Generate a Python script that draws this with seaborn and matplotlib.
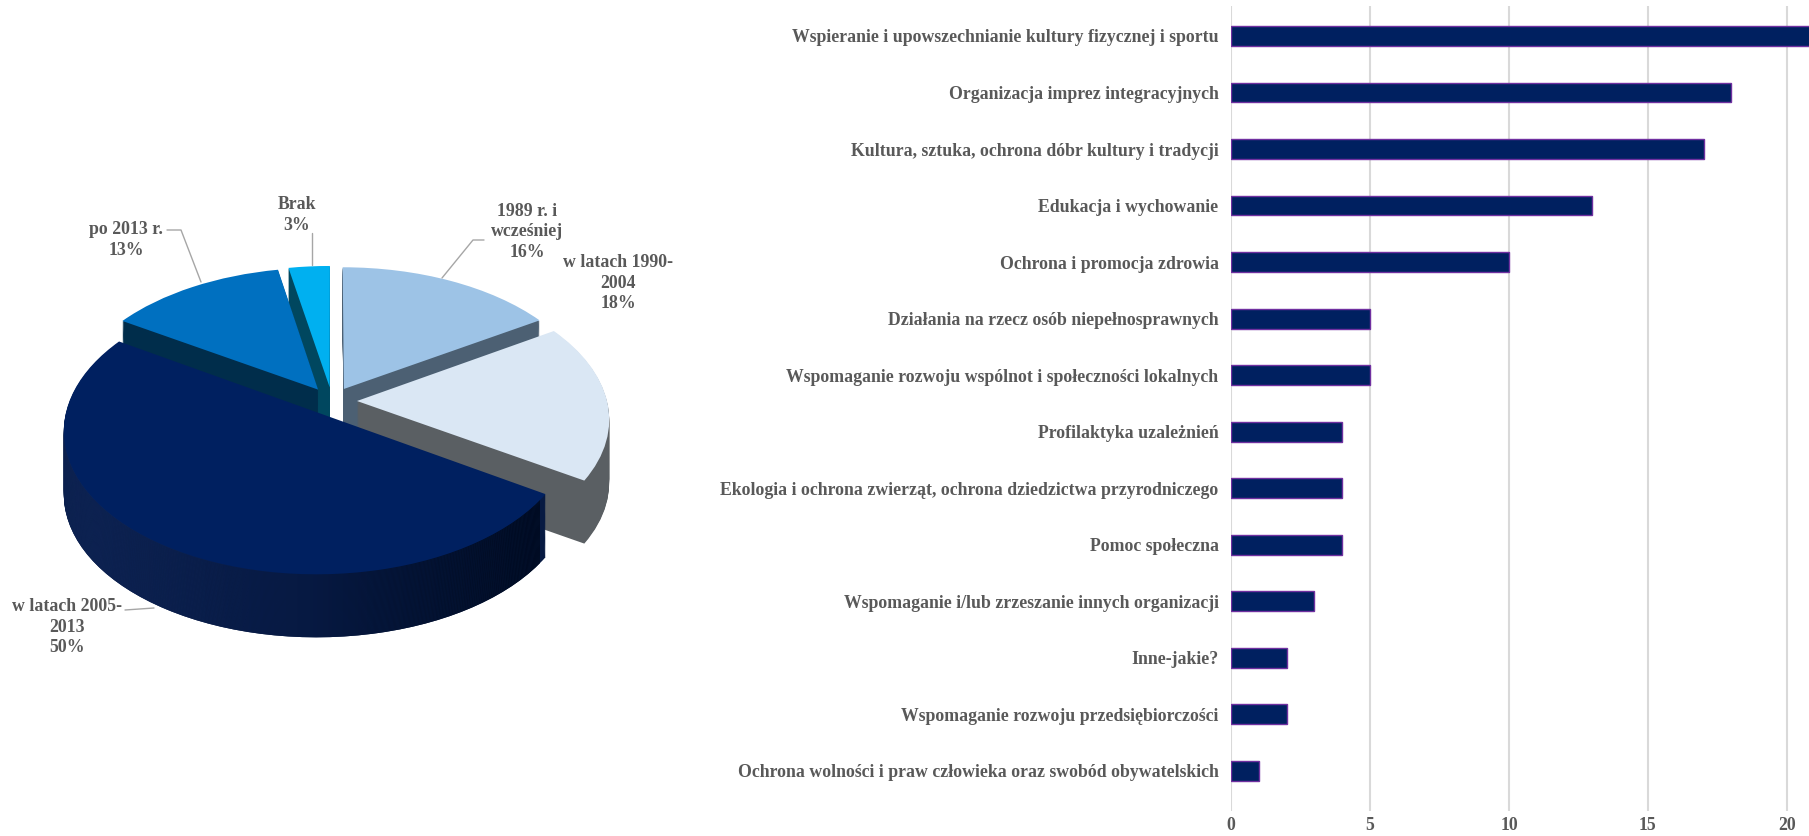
import numpy as np
import matplotlib
matplotlib.use("Agg")
import matplotlib.pyplot as plt
from matplotlib.transforms import Transform, Affine2D
from matplotlib.colors import LinearSegmentedColormap
import seaborn as sns

# Pie: year of registration
period_labels = ["1989 r. i\nwcześniej", "w latach 1990-\n2004", "w latach 2005-\n2013",
                 "po 2013 r.", "Brak"]
period_shares = [16, 18, 50, 13, 3]
period_top_colors = ["#9DC3E6", "#DAE7F4", "#002060", "#0070C0", "#00B0F0"]
period_side_colors = ["#4C6073", "#5A5F63", "#071A42", "#002D4B", "#00475F"]

# Bars: fields of activity
areas = [
    "Wspieranie i upowszechnianie kultury fizycznej i sportu",
    "Organizacja imprez integracyjnych",
    "Kultura, sztuka, ochrona dóbr kultury i tradycji",
    "Edukacja i wychowanie",
    "Ochrona i promocja zdrowia",
    "Działania na rzecz osób niepełnosprawnych",
    "Wspomaganie rozwoju wspólnot i społeczności lokalnych",
    "Profilaktyka uzależnień",
    "Ekologia i ochrona zwierząt, ochrona dziedzictwa przyrodniczego",
    "Pomoc społeczna",
    "Wspomaganie i/lub zrzeszanie innych organizacji",
    "Inne-jakie?",
    "Wspomaganie rozwoju przedsiębiorczości",
    "Ochrona wolności i praw człowieka oraz swobód obywatelskich",
]
area_counts = [22, 18, 17, 13, 10, 5, 5, 4, 4, 4, 3, 2, 2, 1]
x_ticks = [0, 5, 10, 15, 20]

sns.set_style("white")
plt.rcParams["font.family"] = ["Liberation Serif", "DejaVu Serif"]
plt.rcParams["font.weight"] = "bold"

TEXT = "#595959"
FS = 12.75
W, H = 1809, 836

fig = plt.figure(figsize=(W / 100, H / 100), dpi=100)

# ---------------- horizontal bar chart ----------------
px_per_unit = 27.8
ax_bar = fig.add_axes([1231 / W, 1 - 811 / H, 25 * px_per_unit / W, 805 / H])
sns.barplot(x=area_counts, y=areas, orient="h", color="#002060", saturation=1,
            edgecolor="#7030A0", linewidth=1.0, width=0.35, ax=ax_bar)
ax_bar.set_xlim(0, 25)
ax_bar.set_ylim(13.71, -0.53)
ax_bar.set_xticks(x_ticks)
ax_bar.set_xticklabels([str(t) for t in x_ticks])
ax_bar.grid(axis="x", color="#D9D9D9", linewidth=1.5)
ax_bar.grid(axis="y", visible=False)
ax_bar.set_axisbelow(True)
for s in ax_bar.spines.values():
    s.set_visible(False)
ax_bar.tick_params(axis="y", length=0, pad=9, labelsize=FS, labelcolor=TEXT)
ax_bar.tick_params(axis="x", length=0, pad=4, labelsize=FS, labelcolor=TEXT)
ax_bar.set_xlabel("")
ax_bar.set_ylabel("")


# ---------------- exploded pie seen at an angle ----------------
class Tilt(Transform):
    """Simple perspective: the far half of the disc appears smaller."""
    input_dims = 2
    output_dims = 2
    is_separable = False
    has_inverse = False

    def __init__(self, q):
        super().__init__()
        self.q = q

    def transform_non_affine(self, values):
        v = np.asarray(values, dtype=float)
        d = 1.0 + self.q * v[:, 1]
        return np.column_stack([v[:, 0] / d, v[:, 1] / d])


cx, cy = 332, 401          # pie centre in pixels
rx, ry = 250, 139          # pixels per radius unit (x, y)
ax_pie = fig.add_axes([0, 1 - 720 / H, 700 / W, 540 / H])
depth = 63 / ry
explode = [0.1] * len(period_shares)
tilt = Tilt(0.12)

# slices further back are painted first
cum = np.cumsum([0] + period_shares[:-1])
mid = np.deg2rad((cum + np.array(period_shares) / 2) * 3.6)
back = np.cos(mid)
rank = np.empty(len(back), int)
rank[np.argsort(-back)] = np.arange(len(back))

navy = period_shares.index(50)
shade = LinearSegmentedColormap.from_list("shade", ["#112759", "#071a44", "#000A1E"])
grad = np.linspace(0, 1, 256).reshape(1, -1)


def to_data(px, py):
    return (px - cx) / rx, (cy - py) / ry


gx0, _ = to_data(55, 0)
gx1, _ = to_data(540, 0)

n_layers = 60
offsets = np.linspace(depth, 0, n_layers + 1)
for k, off in enumerate(offsets):
    top = k == n_layers
    wedges, _ = ax_pie.pie(period_shares, explode=explode,
                           colors=period_top_colors if top else period_side_colors,
                           startangle=90, counterclock=False,
                           wedgeprops=dict(linewidth=0))
    tr = tilt + Affine2D().translate(0, -off) + ax_pie.transData
    for i, w in enumerate(wedges):
        w.set_transform(tr)
        w.set_zorder(rank[i] * 100 + k + 1)
    if not top:
        im = ax_pie.imshow(grad, cmap=shade, aspect="auto", interpolation="bilinear",
                           extent=(gx0, gx1, -2.0, 0.6),
                           zorder=rank[navy] * 100 + k + 1.5)
        im.set_clip_path(wedges[navy])

ax_pie.set_aspect("auto")
ax_pie.set_xlim(-cx / rx, (700 - cx) / rx)
ax_pie.set_ylim((cy - 720) / ry, (cy - 180) / ry)
ax_pie.axis("off")

label_px = [(527, 232), (618, 283), (67, 627), (126, 240), (297, 215)]
for lab, share, (px, py) in zip(period_labels, period_shares, label_px):
    x, y = to_data(px, py)
    ax_pie.text(x, y, f"{lab}\n{share}%", ha="center", va="center", multialignment="center",
                fontsize=FS, color=TEXT, fontweight="bold", linespacing=1.3,
                clip_on=False, zorder=1000)

leaders = [
    [(484, 240), (473, 240), (442, 278)],
    [(167, 230), (181, 230), (201, 282)],
    [(312, 233), (312, 265)],
    [(125, 610), (154, 608)],
]
for pts in leaders:
    xy = np.array([to_data(*p) for p in pts])
    ax_pie.plot(xy[:, 0], xy[:, 1], color="#A6A6A6", linewidth=1, clip_on=False, zorder=999)

fig.savefig("out.png", dpi=100)
